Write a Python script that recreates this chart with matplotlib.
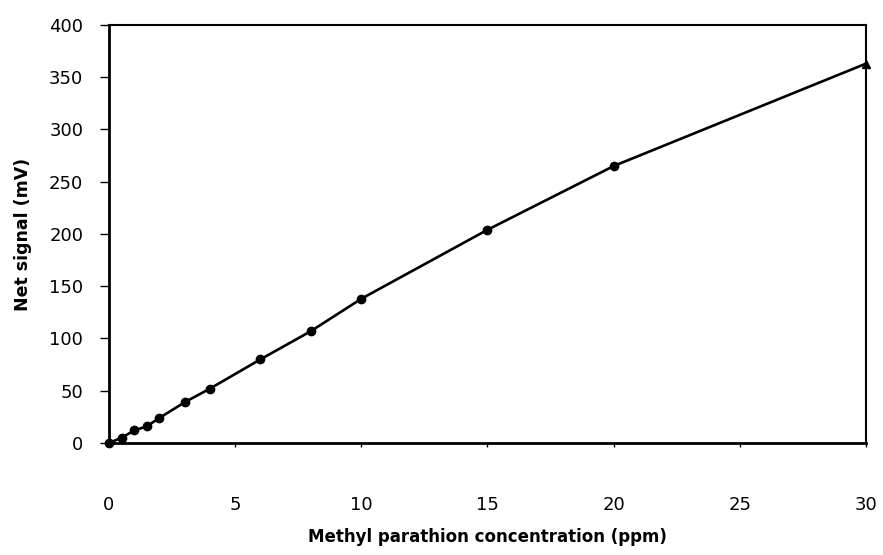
import matplotlib

matplotlib.use("Agg")
import matplotlib.pyplot as plt

plt.rcParams["font.family"] = ["DejaVu Sans"]

# methyl parathion calibration data
conc_ppm = [0, 0.5, 1, 1.5, 2, 3, 4, 6, 8, 10, 15, 20, 30]
net_signal_mv = [0, 5, 12, 16, 24, 39, 52, 80, 107, 138, 204, 265, 363]

x_ticks = [0, 5, 10, 15, 20, 25, 30]
y_ticks = [0, 50, 100, 150, 200, 250, 300, 350, 400]

fig = plt.figure(figsize=(8.83, 5.55), dpi=100)
ax = fig.add_axes([0.1234, 0.2018, 0.8573, 0.7532])

ax.plot(conc_ppm, net_signal_mv, color="black", lw=1.9, marker="o", ms=6,
        markevery=list(range(len(conc_ppm) - 1)), clip_on=False, zorder=3)
ax.plot(conc_ppm[-1:], net_signal_mv[-1:], color="black", marker="^", ms=5.5, ls="none",
        clip_on=False, zorder=4)

ax.set_xlim(0, 30)
ax.set_ylim(0, 400)
ax.set_xticks(x_ticks)
ax.set_yticks(y_ticks)
ax.tick_params(axis="y", direction="out", length=6.5, width=1, pad=12, labelsize=13)
ax.tick_params(axis="x", direction="out", length=3, width=1, pad=35, labelsize=13)

for side in ("left", "bottom"):
    ax.spines[side].set_linewidth(2.0)
for side in ("top", "right"):
    ax.spines[side].set_linewidth(1.5)

ax.set_xlabel("Methyl parathion concentration (ppm)", fontsize=12, fontweight="bold", labelpad=10)
ax.set_ylabel("Net signal (mV)", fontsize=12.5, fontweight="bold", labelpad=12)

fig.savefig("out.png", dpi=100)
